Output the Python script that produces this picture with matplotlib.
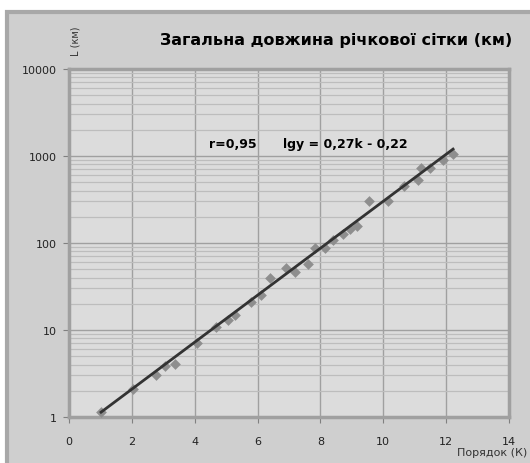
import matplotlib.pyplot as plt
import matplotlib.ticker as mticker
import numpy as np

# stream order (K) and total stream length L (km)
order = [1.02, 2.04, 2.77, 3.05, 3.37, 4.07, 4.68, 5.06, 5.28, 5.79, 6.11,
         6.40, 6.92, 7.19, 7.60, 7.83, 8.15, 8.40, 8.72, 8.94, 9.16, 9.55,
         10.15, 10.66, 11.10, 11.20, 11.49, 11.90, 12.22]
length = [1.14, 2.1, 3.0, 3.9, 4.1, 7.1, 10.8, 13.0, 14.9, 21, 25,
          40, 51, 46.5, 57, 88, 88, 108, 127, 145, 157, 303,
          303, 452, 528, 730, 730, 900, 1050]

slope, intercept = 0.27, -0.22
r_value = "0,95"

title = "Загальна довжина річкової сітки (км)"
ylabel = "L (км)"
xlabel = "Порядок (К)"
yticks = [1, 10, 100, 1000, 10000]
ytick_labels = ["1", "10", "100", "1000", "10000"]
xticks = [0, 2, 4, 6, 8, 10, 12, 14]

fig = plt.figure(figsize=(5.3, 4.64), dpi=100)
fig.patch.set_facecolor("white")

# outer chart area with border
bg = plt.Rectangle((7 / 530, -0.01), 1, 1.01 - 13 / 464,
                   transform=fig.transFigure, facecolor="#cfcfcf",
                   edgecolor="#a8a8a8", linewidth=3, zorder=-1)
fig.add_artist(bg)

ax = fig.add_axes([69 / 530, 46 / 464, 440 / 530, 348 / 464])
ax.set_facecolor("#dcdcdc")
ax.set_yscale("log")
ax.set_xlim(0, 14)
ax.set_ylim(1, 10000)

ax.yaxis.set_minor_locator(mticker.LogLocator(base=10, subs=np.arange(2, 10)))
ax.yaxis.set_minor_formatter(mticker.NullFormatter())
ax.grid(which="major", color="#a0a0a0", linewidth=1)
ax.grid(which="minor", axis="y", color="#bdbdbd", linewidth=0.9)
ax.set_axisbelow(True)

ax.set_xticks(xticks)
ax.set_xticklabels([str(t) for t in xticks])
ax.set_yticks(yticks)
ax.set_yticklabels(ytick_labels)
ax.tick_params(which="major", direction="out", length=4, color="#808080",
               labelsize=8, labelcolor="#222222", pad=5)
ax.tick_params(which="minor", length=0)
ax.tick_params(axis="x", pad=10)

for side in ["left", "right", "top", "bottom"]:
    ax.spines[side].set_color("#a0a0a0")
    ax.spines[side].set_linewidth(2.5)

k = np.array(order)
ax.scatter(k, length, marker="D", s=30, color="#8e8e8e", zorder=3,
           linewidths=0)

kline = np.array([k.min(), k.max()])
ax.plot(kline, 10 ** (slope * kline + intercept), color="#333333",
        linewidth=2, zorder=4)

ax.text(4.45, 1380, f"r={r_value}", fontsize=9, fontweight="bold",
        va="center", ha="left")
ax.text(6.8, 1380, "lgy = 0,27k - 0,22", fontsize=9, fontweight="bold",
        va="center", ha="left")

fig.text(512 / 530, 1 - 40 / 464, title, fontsize=11.5, fontweight="heavy",
         ha="right", va="center", family="DejaVu Sans")
fig.text(76 / 530, 1 - 41 / 464, ylabel, fontsize=7, rotation=90,
         ha="center", va="center", color="#333333")
fig.text(527 / 530, 1 - 453 / 464, xlabel, fontsize=8, ha="right",
         va="center", color="#333333")

fig.savefig("out.png", dpi=100)
